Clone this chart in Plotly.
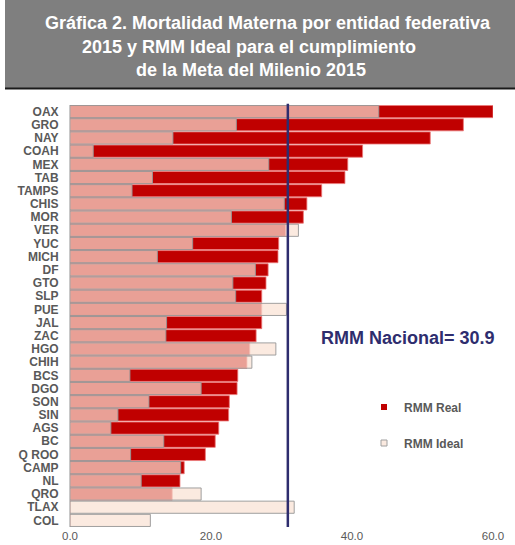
import plotly.graph_objects as go

states = ["OAX", "GRO", "NAY", "COAH", "MEX", "TAB", "TAMPS", "CHIS", "MOR", "VER",
          "YUC", "MICH", "DF", "GTO", "SLP", "PUE", "JAL", "ZAC", "HGO", "CHIH",
          "BCS", "DGO", "SON", "SIN", "AGS", "BC", "Q ROO", "CAMP", "NL", "QRO",
          "TLAX", "COL"]
rmm_real = [60.0, 55.8, 51.1, 41.5, 39.4, 39.0, 35.7, 33.6, 33.1, 30.6,
            29.6, 29.5, 28.1, 27.8, 27.2, 27.2, 27.2, 26.4, 25.5, 25.1,
            23.8, 23.7, 22.6, 22.5, 21.1, 20.6, 19.2, 16.2, 15.6, 14.5,
            0.0, 0.0]
rmm_ideal = [43.8, 23.6, 14.6, 3.3, 28.2, 11.7, 8.8, 30.4, 22.9, 32.4,
             17.4, 12.4, 26.3, 23.1, 23.5, 30.7, 13.7, 13.6, 29.2, 25.8,
             8.5, 18.6, 11.2, 6.8, 5.8, 13.3, 8.6, 15.7, 10.1, 18.6,
             31.8, 11.4]
rmm_nacional = 30.9
x_ticks = [0, 20, 40, 60]
x_tick_labels = ["0.0", "20.0", "40.0", "60.0"]

title_lines = ["Gráfica 2. Mortalidad Materna por entidad federativa",
               "2015 y RMM Ideal para el cumplimiento",
               "de la Meta del Milenio 2015"]

FONT = "Liberation Sans, Arial, sans-serif"
RED = "#C00000"
IDEAL = "rgba(249,225,211,0.71)"
NAVY = "#2E2D6E"
GRAY_TXT = "#595959"

W, H = 515, 545
ML, MR, MT, MB = 70, 22, 105, 18
PW, PH = W - ML - MR, H - MT - MB


def px_x(p):
    return (p - ML) / PW


def px_y(p):
    return (H - MB - p) / PH


fig = go.Figure()
fig.add_trace(go.Bar(y=states, x=rmm_real, orientation="h", name="RMM Real",
                     marker=dict(color=RED, line=dict(color="rgba(235,120,120,1)", width=0.8)),
                     showlegend=False))
fig.add_trace(go.Bar(y=states, x=rmm_ideal, orientation="h", name="RMM Ideal",
                     marker=dict(color=IDEAL, line=dict(color="rgba(150,150,150,0.9)", width=1)),
                     showlegend=False))
fig.add_trace(go.Scatter(x=[None], y=[None], mode="markers", name="RMM Real",
                         marker=dict(symbol="square", size=6, color=RED), legend="legend"))
fig.add_trace(go.Scatter(x=[None], y=[None], mode="markers", name="RMM Ideal",
                         marker=dict(symbol="square", size=6, color="#FBEAE0",
                                     line=dict(color="#A0A0A0", width=1)), legend="legend2"))

shapes = [
    dict(type="rect", xref="paper", yref="paper", x0=px_x(5), x1=px_x(515),
         y0=px_y(88), y1=px_y(0), fillcolor="#7F7F7F", line=dict(width=0), layer="below"),
    dict(type="line", xref="paper", yref="paper", x0=px_x(5), x1=px_x(515),
         y0=px_y(88.5), y1=px_y(88.5), line=dict(color="#1a1a1a", width=2)),
    dict(type="line", xref="x", yref="paper", x0=rmm_nacional, x1=rmm_nacional,
         y0=0, y1=1.003, line=dict(color=NAVY, width=2.5)),
]

annotations = []
for txt, cx, cy in zip(title_lines, [268, 249, 251], [23, 47, 70]):
    annotations.append(dict(text=txt, xref="paper", yref="paper", x=px_x(cx), y=px_y(cy),
                            xanchor="center", yanchor="middle", showarrow=False,
                            font=dict(family=FONT, size=18, color="white", weight="bold")))
annotations.append(dict(text=f"RMM Nacional= {rmm_nacional}", xref="paper", yref="paper",
                        x=px_x(408), y=px_y(338), xanchor="center", yanchor="middle",
                        showarrow=False,
                        font=dict(family=FONT, size=18, color=NAVY, weight="bold")))

leg_font = dict(family=FONT, size=12, color=GRAY_TXT, weight="bold")
fig.update_layout(
    width=W, height=H,
    margin=dict(l=ML, r=MR, t=MT, b=MB, autoexpand=False),
    paper_bgcolor="white", plot_bgcolor="white",
    barmode="overlay", bargap=0.08,
    font=dict(family=FONT),
    shapes=shapes, annotations=annotations,
    legend=dict(x=px_x(364), y=px_y(407), xanchor="left", yanchor="middle",
                font=leg_font, bgcolor="rgba(0,0,0,0)", itemwidth=30),
    legend2=dict(x=px_x(364), y=px_y(443), xanchor="left", yanchor="middle",
                 font=leg_font, bgcolor="rgba(0,0,0,0)", itemwidth=30),
    xaxis=dict(range=[0, 60], tickvals=x_ticks, ticktext=x_tick_labels,
               showgrid=False, zeroline=False, showline=False,
               tickfont=dict(family=FONT, size=11.5, color=GRAY_TXT)),
    yaxis=dict(autorange="reversed", showgrid=False, zeroline=False,
               showline=True, linecolor="#C8C8C8", linewidth=1,
               tickmode="linear", dtick=1,
               ticks="", ticklabelstandoff=8,
               tickfont=dict(family=FONT, size=12, color=GRAY_TXT, weight="bold")),
)

fig.write_html("out.html", config={"displayModeBar": False},
               post_script="document.body.style.margin='0';document.body.style.padding='0';")
